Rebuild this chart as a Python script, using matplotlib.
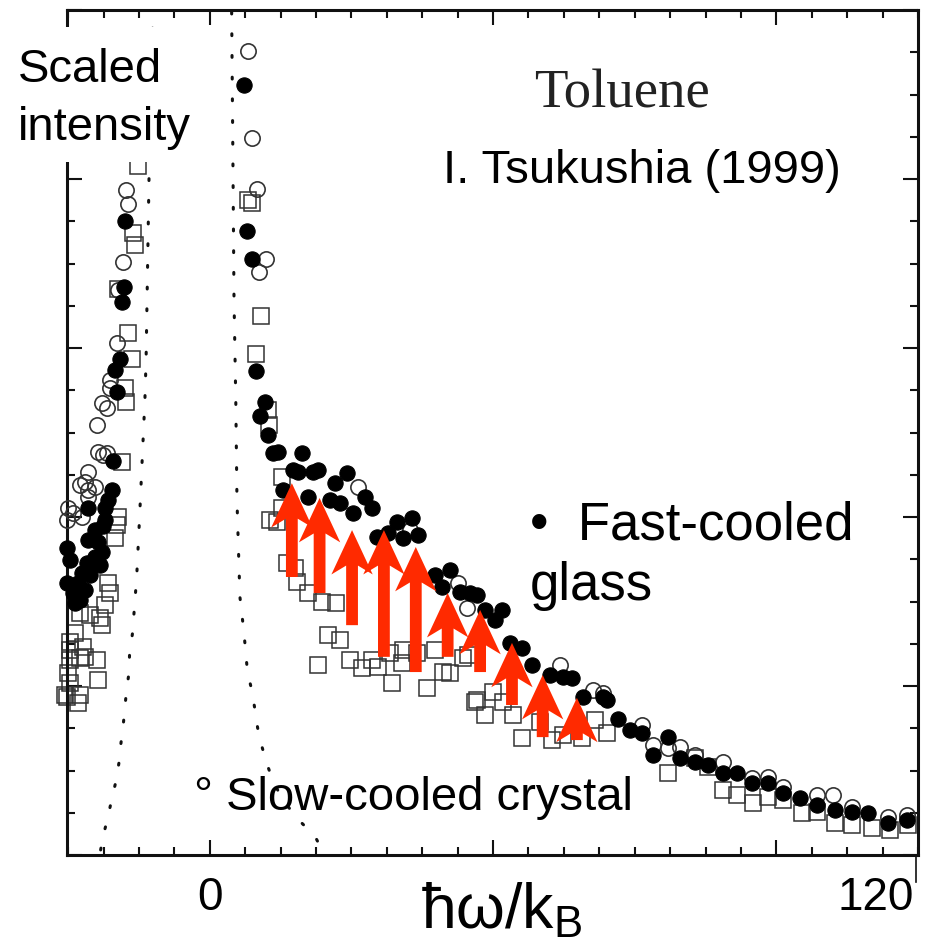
import numpy as np
import matplotlib
matplotlib.use("Agg")
from matplotlib import pyplot as plt
from matplotlib.patches import Rectangle
from matplotlib.lines import Line2D
from matplotlib.ticker import MultipleLocator

plt.rcParams['font.family'] = ['Liberation Sans', 'DejaVu Sans']

# filled circles (fast-cooled glass)
fast_x = [-14.6, -14.9, -14.4, -15.3, -16.1, -15.8, -16.4, -16.6, -17.3, -20.7, -17.8, -17.8,
          -18.1, -20.7, -19.0, -24.2, -18.3, -19.5, -23.7, -20.8, -21.7, -24.2, -22.4, -23.2,
          -22.0, -22.9, -19.5, -21.2, -20.3, -18.6,
          5.8, 6.3, 7.1, 7.8, 9.3, 8.5, 9.8, 10.7, 11.5, 15.6, 14.1, 14.9, 17.5, 18.3, 12.4,
          16.6, 21.2, 23.2, 20.3, 22.0, 24.2, 26.3, 27.5, 31.7, 34.2, 28.3, 30.2, 32.7, 35.3,
          38.1, 40.7, 39.3, 42.4, 44.1, 45.3, 46.6, 48.3, 49.5, 50.8, 52.9, 54.6, 57.6, 59.8,
          61.4, 63.2, 66.6, 67.3, 69.2, 71.2, 73.2, 75.1, 77.6, 79.7, 82.2, 84.4, 86.9, 89.3,
          91.9, 94.6, 97.1, 100.0, 102.9, 105.9, 108.8, 111.5, 114.9, 118.1]
fast_y = [13.44, 13.09, 15.01, 11.74, 11.48, 10.96, 9.33, 8.64, 8.40, 8.21, 8.21, 7.93,
          7.79, 7.46, 7.41, 7.27, 7.17, 7.05, 6.98, 6.91, 6.67, 6.44, 6.44, 6.20,
          6.04, 5.96, 7.69, 6.27, 6.63, 6.86,
          18.22, 14.77, 14.11, 11.46, 10.72, 10.39, 9.94, 9.51, 9.54, 9.51, 9.11, 9.07, 9.07, 9.11, 8.64,
          8.47, 8.80, 9.04, 8.40, 8.33, 8.09, 8.47, 8.21, 7.88, 7.98, 7.53, 7.62, 7.50, 7.57,
          6.63, 6.75, 6.34, 6.22, 6.20, 6.15, 5.80, 5.56, 5.80, 5.02, 4.90, 4.50, 4.26, 4.21,
          4.19, 3.74, 3.74, 3.67, 3.22, 2.96, 2.89, 2.37, 2.79, 2.30, 2.20, 2.13, 1.94, 1.94,
          1.70, 1.70, 1.47, 1.35, 1.18, 1.07, 1.02, 0.99, 0.76, 0.83]

# open circles
open_x = [-14.2, -13.9, -14.7, -15.6, -15.8, -16.9, -16.9, -18.3, -17.5, -19.2, -19.0, -18.1,
          -20.7, -21.2, -22.0, -20.7, -19.5, -20.7, -24.1, -23.2, -24.2, -21.7, -17.5,
          6.4, 7.1, 8.0, 9.5, 8.3, 25.1, 33.9, 42.0, 43.6, 59.3, 64.9, 66.6, 73.2, 75.1, 77.6,
          79.7, 82.2, 86.9, 91.9, 94.6, 97.1, 102.9, 105.6, 108.8, 114.9, 118.1]
open_y = [15.74, 15.41, 14.04, 13.37, 12.12, 11.24, 11.05, 10.70, 10.58, 10.18, 9.54, 9.47,
          9.07, 8.83, 8.76, 8.64, 8.71, 8.47, 8.21, 8.09, 7.93, 8.00, 9.51,
          19.03, 16.97, 15.76, 14.11, 13.80, 8.71, 7.69, 6.44, 5.85, 4.50, 3.91, 3.83, 3.08, 2.60, 2.53,
          2.56, 2.37, 2.20, 1.82, 1.85, 1.61, 1.42, 1.42, 1.14, 0.90, 0.95]

# open squares
sq_x = [-12.2, -13.1, -12.7, -15.6, -13.9, -13.2, -14.4, -14.2, -14.9, -15.6, -15.8, -16.1,
        -17.3, -16.9, -17.8, -22.0, -18.6, -18.3, -20.3, -22.9, -23.7, -21.5, -21.2, -22.0,
        -19.2, -23.7, -24.1, -19.0, -23.7, -24.6, -22.0, -22.4, -23.7, -24.2,
        6.4, 7.1, 8.6, 7.8, 9.8, 10.0, 12.2, 11.4, 10.2, 12.2, 13.1, 14.4, 14.7, 16.6, 19.0,
        21.4, 20.0, 22.0, 18.3, 23.7, 25.8, 27.5, 28.5, 30.5, 30.8, 32.7, 32.5, 35.1, 36.8,
        38.1, 39.5, 40.7, 42.9, 43.7, 44.9, 46.6, 48.0, 49.7, 51.4, 52.9, 55.9, 58.0, 59.8,
        63.1, 65.3, 67.3, 45.3, 77.6, 82.2, 84.4, 86.9, 89.3, 92.0, 94.6, 97.1, 100.3, 102.9,
        105.9, 108.8, 112.2, 115.3, 118.3]
sq_y = [16.30, 14.72, 14.44, 13.40, 12.36, 11.74, 11.05, 10.72, 9.30, 8.00, 7.81, 7.50,
        6.44, 6.20, 5.92, 5.73, 5.61, 5.44, 5.68, 5.25, 5.04, 4.92, 4.69, 4.66,
        4.62, 4.62, 4.31, 4.14, 4.07, 3.79, 3.79, 3.60, 4.85, 3.74,
        15.50, 15.43, 12.76, 11.86, 10.53, 10.18, 8.95, 7.88, 7.93, 8.21, 6.91, 6.79, 6.46, 6.20, 5.99,
        5.96, 5.21, 5.09, 4.50, 4.62, 4.43, 4.62, 4.45, 4.78, 4.07, 4.85, 4.54, 4.78, 3.95,
        4.85, 4.33, 4.31, 4.66, 4.73, 3.62, 3.31, 3.86, 3.62, 3.31, 2.77, 3.15, 2.72, 2.84,
        2.77, 3.20, 2.89, 3.67, 1.94, 2.30, 2.08, 1.54, 1.42, 1.23, 1.37, 1.30, 0.99, 1.02,
        0.76, 0.71, 0.64, 0.59, 0.71]

# dotted resolution curves
res_left_x = [-18.5, -18.1, -17.3, -16.6, -15.9, -15.4, -15.1, -14.7, -14.4, -14.1, -13.7, -13.6,
              -13.1, -12.4, -11.9, -11.4, -11.0, -10.8, -10.7, -10.3, -9.7]
res_left_y = [0.12, 0.43, 0.88, 1.33, 1.75, 2.18, 2.60, 3.03, 3.48, 3.91, 4.31, 4.76,
              5.25, 6.56, 8.00, 9.54, 10.77, 11.72, 12.59, 16.05, 19.57]
res_right_x = [3.7, 3.9, 4.1, 4.4, 4.6, 5.1, 5.8, 6.1, 6.4, 7.1, 7.6, 8.1, 8.8, 9.7, 10.7,
               12.4, 14.9, 17.8, 19.0]
res_right_y = [19.95, 16.70, 13.14, 10.77, 8.40, 6.11, 5.25, 4.76, 4.31, 3.91, 3.48, 3.01,
               2.58, 2.15, 1.75, 1.30, 0.85, 0.45, 0.12]

# red arrows: x, start, end
arrow_x = [13.9, 18.6, 24.1, 29.5, 34.9, 40.3, 45.8, 51.2, 56.4, 62.2]
arrow_lo = [6.58, 6.20, 5.44, 4.69, 4.33, 4.69, 4.33, 3.55, 2.79, 2.72]
arrow_hi = [8.80, 8.45, 7.69, 7.69, 7.29, 6.20, 5.80, 5.02, 4.26, 3.72]

W, H = 932, 943


def fx(px):
    return px / W


def fy(py):
    return 1 - py / H


fig = plt.figure(figsize=(9.32, 9.43), dpi=100)
ax = fig.add_axes([fx(67), fy(855), fx(918) - fx(67), fy(10) - fy(855)])
ax.set_xlim(-24.2, 120)
ax.set_ylim(0, 20)

ax.plot(res_left_x, res_left_y, color='#111111', lw=2.2, dashes=[0.6, 6.5],
        dash_capstyle='round', zorder=1)
ax.plot(res_right_x, res_right_y, color='#111111', lw=2.2, dashes=[0.6, 6.5],
        dash_capstyle='round', zorder=1)

ax.plot(sq_x, sq_y, 's', ms=11, mfc='none', mec='#333333', mew=1.1, clip_on=False, zorder=2)
ax.plot(open_x, open_y, 'o', ms=11, mfc='none', mec='#333333', mew=1.2, clip_on=False, zorder=3)
ax.plot(fast_x, fast_y, 'o', ms=11, mfc='black', mec='black', mew=0.8, clip_on=False, zorder=4)

for x, lo, hi in zip(arrow_x, arrow_lo, arrow_hi):
    ax.arrow(x, lo, 0, hi - lo, width=2.0, head_width=7.0, head_length=1.05, overhang=0.2,
             length_includes_head=True, color='#ff2a00', lw=0, zorder=5)

ax.xaxis.set_major_locator(MultipleLocator(48))
ax.xaxis.set_minor_locator(MultipleLocator(6))
ax.yaxis.set_major_locator(MultipleLocator(4))
ax.yaxis.set_minor_locator(MultipleLocator(1))
ax.tick_params(which='both', direction='in', top=True, right=True,
               labelbottom=False, labelleft=False, width=1.5, color='#111111')
ax.tick_params(which='major', length=10.5)
ax.tick_params(which='minor', length=5.5)
for s in ax.spines.values():
    s.set_linewidth(2.2)
    s.set_color('#111111')

# label box over the top-left corner
fig.patches.append(Rectangle((fx(10), fy(162)), fx(220) - fx(10), fy(27) - fy(162),
                             transform=fig.transFigure, facecolor='white', edgecolor='none',
                             zorder=1))
fig.text(fx(18), fy(82), 'Scaled', fontsize=34, va='baseline', zorder=3)
fig.text(fx(18), fy(140), 'intensity', fontsize=34, va='baseline', zorder=3)

fig.text(fx(622), fy(108), 'Toluene', fontsize=39.5, family='Liberation Serif',
         color='#222222', ha='center', va='baseline')
fig.text(fx(443), fy(183), 'I. Tsukushia (1999)', fontsize=34, va='baseline')
fig.text(fx(530), fy(540), '•  Fast-cooled', fontsize=38, va='baseline')
fig.text(fx(530), fy(600), 'glass', fontsize=38, va='baseline')
fig.text(fx(194), fy(810), '° Slow-cooled crystal', fontsize=34, va='baseline')

fig.text(fx(210), fy(910), '0', fontsize=33, ha='center', va='baseline')
fig.text(fx(914), fy(910), '120', fontsize=33, ha='right', va='baseline')
fig.lines.append(Line2D([fx(916), fx(916)], [fy(857), fy(882)], transform=fig.transFigure,
                        color='#111111', lw=1.2))
fig.text(fx(502), fy(928), r'$\mathregular{ħω/k_B}$', fontsize=45, ha='center', va='baseline')

fig.savefig('out.png', dpi=100)
